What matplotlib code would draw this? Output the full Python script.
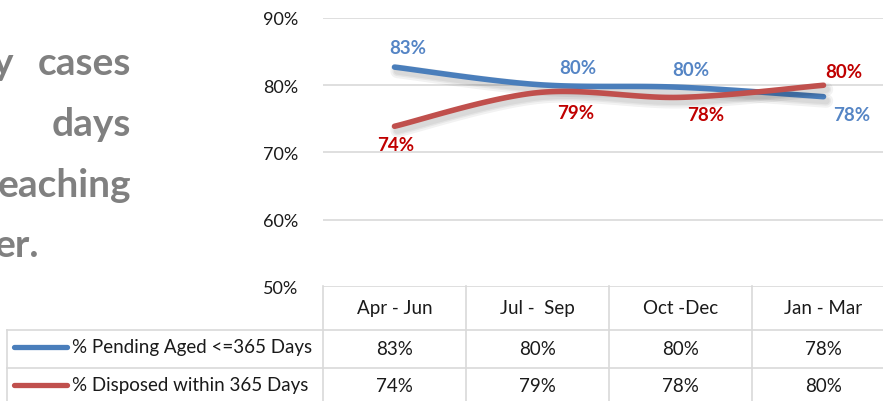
import matplotlib
matplotlib.use("Agg")
import matplotlib.pyplot as plt
import matplotlib.transforms as mtransforms
import matplotlib.patheffects as pe
import numpy as np

# --- data ---
quarters = ["Apr - Jun", "Jul -  Sep", "Oct -Dec", "Jan - Mar"]
pending_aged = [82.7, 80.1, 79.7, 78.3]      # % Pending Aged <=365 Days
disposed_365 = [73.9, 78.9, 78.2, 80.0]      # % Disposed within 365 Days
series_names = ["% Pending Aged <=365 Days", "% Disposed within 365 Days"]
y_ticks = [50, 60, 70, 80, 90]
side_words = ["y", "cases", "days", "eaching", "er."]

# --- styling ---
BLUE = "#4a7ebb"
BLUE_LBL = "#5585c5"
RED = "#c0504d"
RED_LBL = "#c00000"
GRID = "#d9d9d9"
INK = "#1a1a1a"
FONT = "Lato"

# label offsets in pixels (dx, dy) for each point
blue_off = [(13, 20), (40, 17), (10, 18), (28, -18)]
red_off = [(1, -18), (38, -20), (25, -17), (20, 14)]


def smooth(xs, ys, n=40):
    # excel-style smoothed line: cubic bezier through the points
    p = np.column_stack([xs, ys]).astype(float)
    k = len(p)
    out = []
    for i in range(k - 1):
        p0 = p[max(i - 1, 0)]
        p1, p2 = p[i], p[i + 1]
        p3 = p[min(i + 2, k - 1)]
        c1 = p1 + (p2 - p0) / 6
        c2 = p2 - (p3 - p1) / 6
        t = np.linspace(0, 1, n)[:, None]
        seg = ((1 - t) ** 3) * p1 + 3 * ((1 - t) ** 2) * t * c1 + 3 * (1 - t) * t ** 2 * c2 + t ** 3 * p2
        out.append(seg if i == 0 else seg[1:])
    pts = np.vstack(out)
    return pts[:, 0], pts[:, 1]


W, H = 883, 402
fig = plt.figure(figsize=(W / 100, H / 100), dpi=100)

# main plot area: x from 323px, category width 143px, y from 19px (90%) to 288px (50%)
ax = fig.add_axes([323 / W, (H - 288) / H, 572 / W, (288 - 19) / H])
ax.set_xlim(-0.5, 3.5)
ax.set_ylim(50, 90)
for s in ax.spines.values():
    s.set_visible(False)
ax.set_xticks([])
ax.set_yticks(y_ticks)
ax.set_yticklabels([f"{v}%" for v in y_ticks], fontsize=13, family=FONT, color=INK)
ax.tick_params(axis="y", length=0, pad=18)
ax.yaxis.grid(True, color=GRID, lw=1.2)
ax.set_axisbelow(True)
ax.patch.set_alpha(0)

x = np.arange(len(quarters))
# soft drop shadow under the smoothed lines
shadow = [pe.SimpleLineShadow(offset=(2, -3), shadow_color="k", alpha=0.05, linewidth=w)
          for w in (10, 7, 5)] + [pe.Normal()]
for vals, col in [(pending_aged, BLUE), (disposed_365, RED)]:
    sx, sy = smooth(x, vals)
    ax.plot(sx, sy, color=col, lw=4, solid_capstyle="round", path_effects=shadow, clip_on=False)

for vals, col, offs in [(pending_aged, BLUE_LBL, blue_off), (disposed_365, RED_LBL, red_off)]:
    for i, v in enumerate(vals):
        ax.annotate(f"{round(v)}%", (x[i], v), xytext=offs[i], textcoords="offset pixels",
                    ha="center", va="center", fontsize=13.5, fontweight="bold",
                    family=FONT, color=col, annotation_clip=False)

# overlay in pixel coords for the data table and side text
ov = fig.add_axes([0, 0, 1, 1])
ov.set_xlim(0, W)
ov.set_ylim(H, 0)
ov.axis("off")
ov.patch.set_alpha(0)
mix = mtransforms.blended_transform_factory(ax.transData, ov.transData)

# table grid
for xb in np.arange(len(quarters) + 1) - 0.5:
    ov.plot([xb, xb], [287, H + 5], color=GRID, lw=1.2, transform=mix, clip_on=False)
for yb in [331, 369]:
    ov.plot([7, W + 5], [yb, yb], color=GRID, lw=1.2, clip_on=False)
ov.plot([7, 7], [331, H + 5], color=GRID, lw=1.2, clip_on=False)

cell = dict(ha="center", va="center", fontsize=13.5, family=FONT, color=INK)
for i, q in enumerate(quarters):
    ov.text(i, 309, q, transform=mix, **cell)
    ov.text(i, 350, f"{round(pending_aged[i])}%", transform=mix, **cell)
    ov.text(i, 387, f"{round(disposed_365[i])}%", transform=mix, **cell)

for yc, name, col in [(348, series_names[0], BLUE), (386, series_names[1], RED)]:
    ov.plot([14, 67], [yc, yc], color=col, lw=3.8, solid_capstyle="round")
    ov.text(72, yc, name, ha="left", va="center", fontsize=13.5, family=FONT, color=INK)

# cut-off paragraph text on the left
GREY = "#808080"
big = dict(fontsize=28, fontweight="bold", family=FONT, color=GREY, va="baseline")
ov.text(13, 75, side_words[0], ha="right", **big)
ov.text(131, 75, side_words[1], ha="right", **big)
ov.text(131, 136, side_words[2], ha="right", **big)
ov.text(131, 197, side_words[3], ha="right", **big)
ov.text(39, 257, side_words[4], ha="right", **big)

fig.savefig("out.png", dpi=100)
